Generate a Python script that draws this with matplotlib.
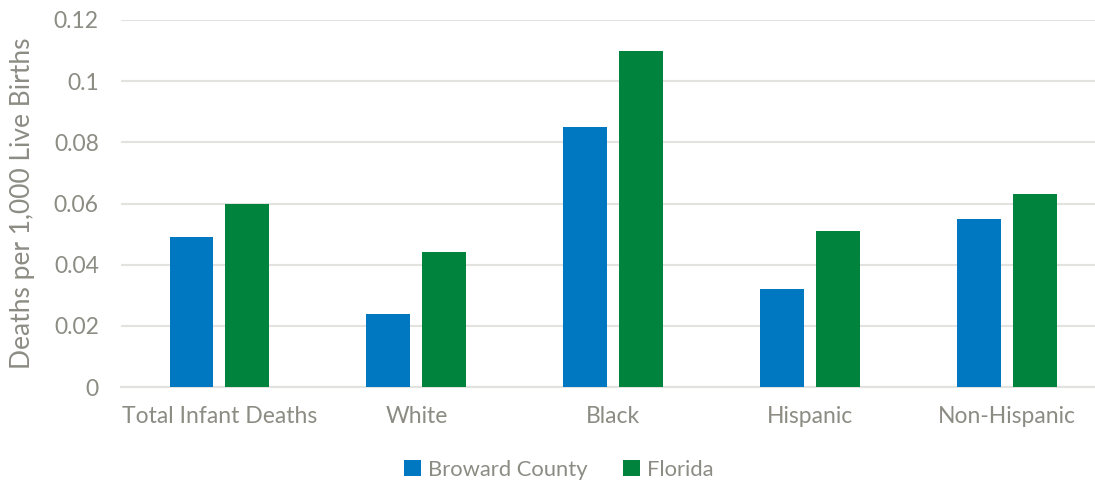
import matplotlib.pyplot as plt
import numpy as np

categories = ["Total Infant Deaths", "White", "Black", "Hispanic", "Non-Hispanic"]
broward = [0.049, 0.024, 0.085, 0.032, 0.055]
florida = [0.060, 0.044, 0.110, 0.051, 0.063]
yticks = [0, 0.02, 0.04, 0.06, 0.08, 0.1, 0.12]
ytick_labels = ["0", "0.02", "0.04", "0.06", "0.08", "0.1", "0.12"]

text_color = "#8c8c84"
grid_color = "#e2e2de"
blue = "#0077c1"
green = "#00843d"

plt.rcParams["font.family"] = ["Lato", "DejaVu Sans"]

fig = plt.figure(figsize=(10.95, 4.87), dpi=100)
ax = fig.add_axes([121 / 1095, 1 - 387 / 487, 1 - 121 / 1095, 367 / 487])

x = np.arange(len(categories))
w = 0.223
off = 0.142
ax.bar(x - off, broward, w, color=blue, label="Broward County", zorder=3)
ax.bar(x + off, florida, w, color=green, label="Florida", zorder=3)

ax.set_xlim(-0.5, (1095 - 219) / 197)
ax.set_ylim(0, 0.12)
ax.set_yticks(yticks)
ax.set_yticklabels(ytick_labels)
ax.set_xticks(x)
ax.set_xticklabels(categories)
ax.yaxis.grid(True, color=grid_color, linewidth=1.5, zorder=0)
ax.tick_params(length=0, labelsize=16.5, labelcolor=text_color)
ax.tick_params(axis="x", pad=14)
ax.tick_params(axis="y", pad=16)
for s in ["top", "right", "left"]:
    ax.spines[s].set_visible(False)
ax.spines["bottom"].set_color(grid_color)
ax.spines["bottom"].set_linewidth(1.5)

ax.set_ylabel("Deaths per 1,000 Live Births", fontsize=19, color=text_color)
ax.yaxis.set_label_coords(-86 / 974, 0.5)

leg = fig.legend(loc="center", bbox_to_anchor=(559 / 1095, 1 - 470 / 487), ncol=2,
                 frameon=False, fontsize=15.8, handlelength=0.75, handleheight=0.75,
                 handletextpad=0.35, columnspacing=1.6)
for t in leg.get_texts():
    t.set_color(text_color)

fig.savefig("out.png", dpi=100)
